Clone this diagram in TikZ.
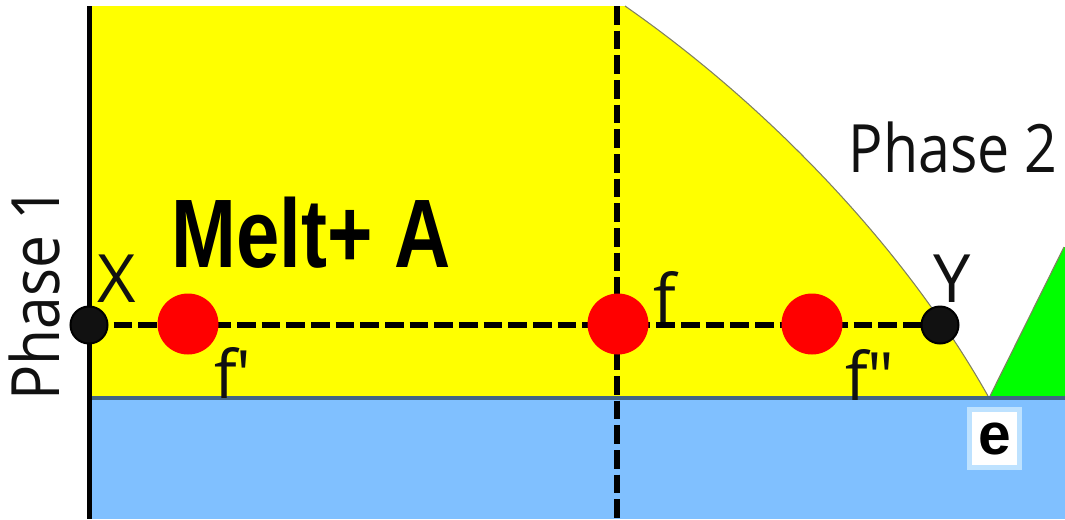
\documentclass[tikz,border=0pt]{standalone}
\usepackage{fontspec}
\setmainfont{Open Sans}
\newfontfamily\meltfont{Liberation Sans}
\definecolor{ylw}{RGB}{255,255,0}
\definecolor{skyblue}{RGB}{128,192,255}
\definecolor{darkline}{RGB}{66,100,130}
\definecolor{grn}{RGB}{0,255,0}
\definecolor{edgegray}{RGB}{128,128,96}
\definecolor{boxblue}{RGB}{190,226,255}
\definecolor{dotblack}{RGB}{17,17,17}
\begin{document}
\begin{tikzpicture}[x=0.75pt,y=-0.75pt,
  dline/.style={line width=4.8pt, dash pattern=on 14pt off 4.5pt},
  bdot/.style={circle, fill=dotblack, draw=black, line width=1.5pt, minimum size=27.75pt, inner sep=0pt},
  rdot/.style={circle, fill=red, minimum size=45.75pt, inner sep=0pt},
  lbl/.style={font=\fontsize{50}{50}\selectfont, inner sep=0pt, anchor=base, text=dotblack}]
\useasboundingbox (0,0) rectangle (1065,519);
% regions
\fill[ylw] (92,6) -- (625,6) .. controls (760,100) and (900,240) .. (988,396) -- (92,396) -- cycle;
\draw[edgegray, line width=0.8pt] (625,6) .. controls (760,100) and (900,240) .. (988,396);
\fill[grn] (990,396) -- (1064,247) -- (1065,247) -- (1065,396) -- cycle;
\draw[edgegray, line width=0.8pt] (990,396) -- (1064,247);
\fill[skyblue] (92,400) rectangle (1065,519);
\fill[darkline] (92,396) rectangle (1065,400);
\fill[black] (87,6) rectangle (92,519);
% dashed guide lines
\coordinate (vt) at (617,6);
\coordinate (vb) at (617,519);
\coordinate (xc) at (89,325);
\coordinate (yc) at (940,325);
\draw[dline] (vt) -- (vb);
\draw[dline] (xc) -- (yc);
% points
\node[bdot] (X) at (xc) {};
\node[bdot] (Y) at (yc) {};
\node[rdot] (f1) at (188,324) {};
\node[rdot] (f0) at (618,324) {};
\node[rdot] (f2) at (812,324) {};
% labels
\node[lbl] (lX) at (117,302) {X};
\node[lbl] (lY) at (952,302) {Y};
\node[lbl] (lf) at (665,322) {f};
\node[lbl] (lf1) at (233,398) {f\textquotesingle};
\node[lbl] (lf2) at (870,400) {f\textquotedbl};
\node[lbl] (p2) at (953,172) {\scalebox{0.86}[1]{Phase 2}};
\node[lbl, rotate=90] (p1) at (60,294) {\scalebox{0.88}[1]{Phase 1}};
\node[inner sep=0pt, anchor=base, xscale=0.8, font=\meltfont\bfseries\fontsize{73}{73}\selectfont] (melt) at (311,267) {Melt+ A};
\node[fill=white, draw=boxblue, line width=3.75pt, minimum width=37.5pt, minimum height=43.5pt, inner sep=0pt, font=\meltfont\bfseries\fontsize{44}{44}\selectfont] (ebox) at (994.5,438.5) {e};
\end{tikzpicture}
\end{document}
